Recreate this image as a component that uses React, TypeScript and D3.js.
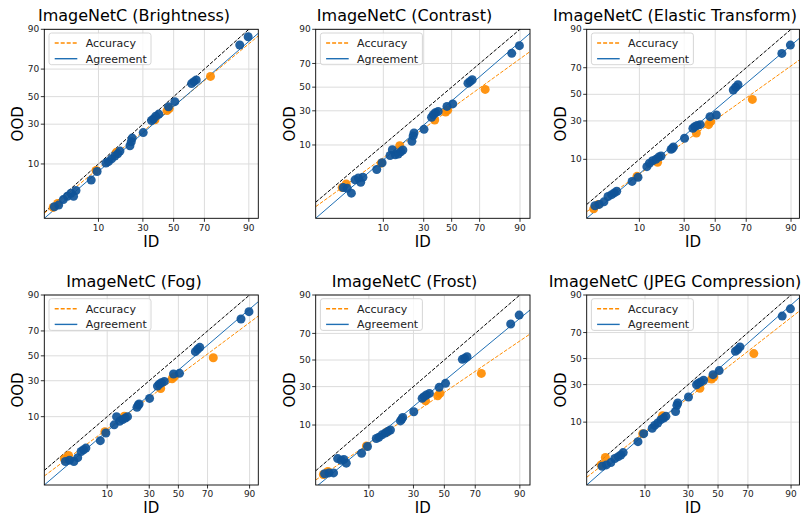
import React from 'react';
import * as d3 from 'd3';

// ---------- data ----------
const titles = [
  'ImageNetC (Brightness)',
  'ImageNetC (Contrast)',
  'ImageNetC (Elastic Transform)',
  'ImageNetC (Fog)',
  'ImageNetC (Frost)',
  'ImageNetC (JPEG Compression)',
];

const tickValues = [10, 30, 50, 70, 90];

// ID agreement (%) of model pairs, shared by all corruptions
const agreeId = [89.8, 87.0, 65.0, 63.5, 62.0, 50.8, 46.5, 40.0, 38.0, 36.5, 35.3, 30.2, 24.0, 23.5, 22.8, 18.0, 17.0, 15.8, 14.5, 13.3, 12.4, 9.6, 8.0, 4.8, 4.4, 4.0, 3.5, 3.0, 2.5, 2.1];

// OOD agreement (%) per corruption
const brightnessAgree = [87.3, 83.7, 62.5, 61.2, 59.8, 46.2, 42.3, 37.0, 35.5, 33.5, 32.5, 24.7, 21.5, 19.5, 17.5, 15.0, 13.8, 12.9, 11.8, 10.8, 10.3, 7.7, 5.6, 3.7, 2.9, 3.3, 2.9, 2.5, 1.95, 1.8];
const contrastAgree = [82.1, 77.3, 56.5, 55.0, 53.5, 35.5, 33.5, 29.5, 28.5, 27.0, 25.2, 17.5, 15.5, 14.0, 11.5, 8.2, 7.6, 6.9, 6.7, 8.3, 6.5, 4.7, 3.4, 2.3, 1.75, 2.2, 2.0, 0.94, 1.25, 1.3];
const elasticAgree = [83.4, 79.0, 57.5, 55.5, 53.4, 34.2, 33.0, 27.5, 27.0, 26.2, 25.1, 19.3, 15.0, 14.4, 13.9, 11.2, 10.8, 10.0, 9.5, 8.7, 7.7, 5.1, 4.3, 2.8, 2.6, 2.4, 2.2, 1.7, 1.5, 1.4];
const fogAgree = [82.4, 78.1, 57.1, 55.5, 53.5, 35.6, 35.1, 29.5, 28.5, 27.5, 26.2, 18.5, 15.5, 15.0, 13.9, 10.0, 9.5, 9.0, 8.4, 10.0, 7.3, 5.2, 3.7, 2.6, 2.4, 2.2, 1.6, 1.3, 1.4, 1.3];
const frostAgree = [81.2, 76.1, 52.6, 51.3, 50.5, 32.3, 29.5, 25.5, 24.5, 23.5, 22.5, 15.4, 12.9, 12.2, 11.5, 8.4, 8.0, 7.5, 7.0, 6.4, 6.1, 4.4, 3.3, 2.1, 2.5, 2.4, 2.6, 1.3, 1.3, 1.25];
const jpegAgree = [84.2, 80.4, 59.3, 57.2, 55.9, 40.4, 37.3, 33.1, 31.8, 31.0, 29.9, 21.9, 18.5, 17.3, 14.3, 12.2, 11.5, 10.9, 9.7, 8.9, 8.0, 6.5, 4.7, 2.9, 2.6, 2.4, 2.2, 1.8, 1.6, 1.5];

// ID accuracy (%) of models
const accId = [73.5, 47.0, 45.5, 37.5, 16.5, 9.3, 2.4, 2.0];
const brightnessAcc = [65.0, 41.0, 39.5, 33.0, 14.5, 8.0, 2.1, 1.75];
const contrastAcc = [48.0, 30.5, 29.0, 23.3, 9.7, 4.6, 1.6, 1.3];
const elasticAcc = [46.0, 29.5, 27.5, 22.3, 9.0, 5.3, 1.5, 1.2];
const fogAcc = [48.4, 33.0, 31.5, 24.5, 10.2, 5.5, 1.8, 1.5];
const frostAcc = [39.6, 25.5, 24.0, 21.0, 7.8, 4.5, 1.4, 1.2];
const jpegAcc = [54.0, 35.5, 34.0, 27.5, 12.5, 6.5, 2.3, 1.6];

// linear fits in probit space (OOD = intercept + slope * ID)
const agreeSlope = [0.966, 1.02, 0.987, 1.003, 0.96, 1.012];
const agreeIntercept = [-0.187, -0.305, -0.3, -0.301, -0.41, -0.217];
const accSlope = [0.925, 0.855, 0.832, 0.875, 0.791, 0.898];
const accIntercept = [-0.18, -0.468, -0.506, -0.42, -0.638, -0.324];

// axis limits in probit units
const xMin = [-2.205, -2.55, -2.172, -2.413, -2.184, -2.305];
const xMax = [1.443, 1.469, 1.423, 1.438, 1.454, 1.428];
const yMin = [-2.316, -2.906, -2.444, -2.721, -2.464, -2.549];
const yMax = [1.2816, 1.2816, 1.2816, 1.2816, 1.2816, 1.2816];

const agreeOod = [brightnessAgree, contrastAgree, elasticAgree, fogAgree, frostAgree, jpegAgree];
const accOod = [brightnessAcc, contrastAcc, elasticAcc, fogAcc, frostAcc, jpegAcc];

// ---------- helpers ----------
function probit(p: number): number {
  const a = [-3.969683028665376e1, 2.209460984245205e2, -2.759285104469687e2, 1.38357751867269e2, -3.066479806614716e1, 2.506628277459239];
  const b = [-5.447609879822406e1, 1.615858368580409e2, -1.556989798598866e2, 6.680131188771972e1, -1.328068155288572e1];
  const c = [-7.784894002430293e-3, -3.223964580411365e-1, -2.400758277161838, -2.549732989387880, 4.374664141464968, 2.938163982698783];
  const d = [7.784695709041462e-3, 3.224671290700398e-1, 2.445134137142996, 3.754408661907416];
  const plow = 0.02425;
  if (p < plow) {
    const q = Math.sqrt(-2 * Math.log(p));
    return (((((c[0] * q + c[1]) * q + c[2]) * q + c[3]) * q + c[4]) * q + c[5]) / ((((d[0] * q + d[1]) * q + d[2]) * q + d[3]) * q + 1);
  }
  if (p <= 1 - plow) {
    const q = p - 0.5;
    const r = q * q;
    return ((((((a[0] * r + a[1]) * r + a[2]) * r + a[3]) * r + a[4]) * r + a[5]) * q) / (((((b[0] * r + b[1]) * r + b[2]) * r + b[3]) * r + b[4]) * r + 1);
  }
  const q = Math.sqrt(-2 * Math.log(1 - p));
  return -(((((c[0] * q + c[1]) * q + c[2]) * q + c[3]) * q + c[4]) * q + c[5]) / ((((d[0] * q + d[1]) * q + d[2]) * q + d[3]) * q + 1);
}
const pz = (pct: number) => probit(pct / 100);

// ---------- layout ----------
const colLeft = [44.3, 315.7, 586.7];
const colWidth = [214, 214.3, 212.7];
const rowTop = [29.3, 295];
const rowHeight = [189, 190];
const titleCenter = [134, 404.5, 675];
const FONT = 'DejaVu Sans, sans-serif';

const BLUE_PT = '#0f5498';
const BLUE_LINE = '#1f6fb4';
const ORANGE = '#ff8c00';

function Panel({ i }: { i: number }) {
  const col = i % 3;
  const row = Math.floor(i / 3);
  const L = colLeft[col];
  const T = rowTop[row];
  const W = colWidth[col];
  const H = rowHeight[row];
  const x = d3.scaleLinear().domain([xMin[i], xMax[i]]).range([L, L + W]);
  const y = d3.scaleLinear().domain([yMin[i], yMax[i]]).range([T + H, T]);
  const clipId = `clip${i}`;
  const line = d3.line<[number, number]>().x((d) => x(d[0])).y((d) => y(d[1]));
  const xs = [xMin[i], xMax[i]];
  const diag = line(xs.map((v) => [v, v] as [number, number]))!;
  const agreeLine = line(xs.map((v) => [v, agreeIntercept[i] + agreeSlope[i] * v] as [number, number]))!;
  const accLine = line(xs.map((v) => [v, accIntercept[i] + accSlope[i] * v] as [number, number]))!;
  const legL = L + 4.7;
  const legT = T + 3.7;
  return (
    <g>
      <defs>
        <clipPath id={clipId}>
          <rect x={L} y={T} width={W} height={H} />
        </clipPath>
      </defs>
      <rect x={L} y={T} width={W} height={H} fill="#fff" />
      {/* grid */}
      {tickValues.map((t) => (
        <line key={'gx' + t} x1={x(pz(t))} x2={x(pz(t))} y1={T} y2={T + H} stroke="#dcdcdc" strokeWidth={1} />
      ))}
      {tickValues.map((t) => (
        <line key={'gy' + t} x1={L} x2={L + W} y1={y(pz(t))} y2={y(pz(t))} stroke="#dcdcdc" strokeWidth={1} />
      ))}
      <g clipPath={`url(#${clipId})`}>
        <path d={diag} stroke="#000" strokeWidth={1} strokeDasharray="3.7,1.6" fill="none" />
        <path d={accLine} stroke={ORANGE} strokeWidth={1} strokeDasharray="3.7,1.6" fill="none" />
        <path d={agreeLine} stroke={BLUE_LINE} strokeWidth={1} fill="none" />
        {accId.map((v, k) => (
          <circle key={'o' + k} cx={x(pz(v))} cy={y(pz(accOod[i][k]))} r={4.5} fill={ORANGE} fillOpacity={0.92} />
        ))}
        {agreeId.map((v, k) => (
          <circle key={'b' + k} cx={x(pz(v))} cy={y(pz(agreeOod[i][k]))} r={4.5} fill={BLUE_PT} fillOpacity={0.92} />
        ))}
      </g>
      {/* frame */}
      <rect x={L} y={T} width={W} height={H} fill="none" stroke="#000" strokeWidth={0.9} />
      {/* ticks */}
      {tickValues.map((t) => (
        <g key={'tx' + t}>
          <line x1={x(pz(t))} x2={x(pz(t))} y1={T + H} y2={T + H + 3.5} stroke="#000" strokeWidth={0.8} />
          <text x={x(pz(t))} y={T + H + 12.4} fontSize={9} fontFamily={FONT} textAnchor="middle" fill="#222">
            {t}
          </text>
        </g>
      ))}
      {tickValues.map((t) => (
        <g key={'ty' + t}>
          <line x1={L - 3.5} x2={L} y1={y(pz(t))} y2={y(pz(t))} stroke="#000" strokeWidth={0.8} />
          <text x={L - 5} y={y(pz(t))} dy="0.35em" fontSize={9} fontFamily={FONT} textAnchor="end" fill="#222">
            {t}
          </text>
        </g>
      ))}
      {/* labels */}
      <text x={L + W / 2} y={T + H + 28.2} fontSize={15} fontFamily={FONT} textAnchor="middle" fill="#000">
        ID
      </text>
      <text
        transform={`translate(${L - 21},${T + H / 2}) rotate(-90)`}
        fontSize={15}
        fontFamily={FONT}
        textAnchor="middle"
        fill="#000"
      >
        OOD
      </text>
      <text x={titleCenter[col]} y={row === 0 ? 20.8 : 287} fontSize={16} fontFamily={FONT} textAnchor="middle" fill="#000">
        {titles[i]}
      </text>
      {/* legend */}
      <rect x={legL} y={legT} width={102} height={31.7} rx={2.5} fill="#fff" fillOpacity={0.8} stroke="#cccccc" strokeWidth={0.8} />
      <line x1={legL + 5.7} x2={legL + 28.3} y1={T + 13.7} y2={T + 13.7} stroke={ORANGE} strokeWidth={1.4} strokeDasharray="4,2" />
      <text x={legL + 36.7} y={T + 13.7} dy="0.35em" fontSize={11} fontFamily={FONT} fill="#222">
        Accuracy
      </text>
      <line x1={legL + 5.7} x2={legL + 28.3} y1={T + 29.4} y2={T + 29.4} stroke={BLUE_LINE} strokeWidth={1.4} />
      <text x={legL + 36.7} y={T + 29.4} dy="0.35em" fontSize={11} fontFamily={FONT} fill="#222">
        Agreement
      </text>
    </g>
  );
}

export default function App() {
  return (
    <svg
      width={801}
      height={518}
      viewBox="0 0 801 518"
      style={{ position: 'absolute', left: 0, top: 0, background: '#fff' }}
    >
      <rect x={0} y={0} width={801} height={518} fill="#fff" />
      {titles.map((_, i) => (
        <Panel key={i} i={i} />
      ))}
    </svg>
  );
}
